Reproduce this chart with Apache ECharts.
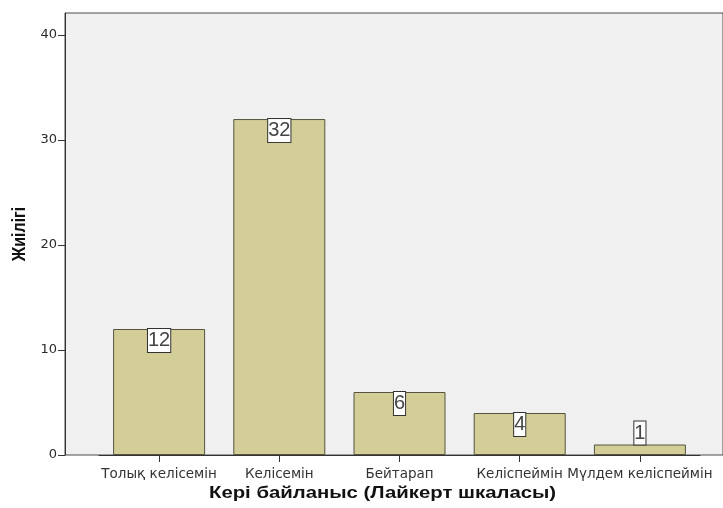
<!DOCTYPE html>
<html>
<head>
<meta charset="utf-8">
<style>
  html, body { margin: 0; padding: 0; background: #ffffff; }
  #chart { width: 723px; height: 508px; }
</style>
<script src="https://cdn.jsdelivr.net/npm/echarts@6/dist/echarts.min.js"></script>
</head>
<body>
<div id="chart"></div>
<script>
// Likert-scale feedback frequencies
const categories = ['Толық келісемін', 'Келісемін', 'Бейтарап', 'Келіспеймін', 'Мүлдем келіспеймін'];
const counts = [12, 32, 6, 4, 1];
const yTicks = [0, 10, 20, 30, 40];
const xTitle = 'Кері байланыс (Лайкерт шкаласы)';
const yTitle = 'Жиілігі';

const SANS = '"Liberation Sans", Arial, sans-serif';
const WIDE = '"DejaVu Sans", "Liberation Sans", sans-serif';

const chart = echarts.init(document.getElementById('chart'), null, { renderer: 'canvas' });

// boxed value label sitting on the bar top
const labelBox = {
  show: true,
  color: '#444',
  fontFamily: SANS,
  fontSize: 20,
  lineHeight: 21,
  backgroundColor: '#ffffff',
  borderColor: '#333333',
  borderWidth: 1,
  padding: [1, 0, 1, 0],
  distance: 0
};

chart.setOption({
  animation: false,
  grid: [
    // plotting grid for the bars
    { left: 99, right: 23, top: 13, bottom: 53, show: false },
    // framed grey plot backdrop
    { left: 65, right: -2, top: 13, bottom: 53, show: true,
      backgroundColor: '#f0f0f0', borderColor: '#4a4a4a', borderWidth: 1, z: 0 }
  ],
  xAxis: [
    {
      type: 'category', gridIndex: 0, data: categories,
      axisLine: { show: true, lineStyle: { color: '#333', width: 1 } },
      axisTick: { show: true, alignWithLabel: true, length: 7, lineStyle: { color: '#333' } },
      axisLabel: { color: '#333', fontFamily: WIDE, fontSize: 13.5, margin: 12, interval: 0 }
    },
    { type: 'value', gridIndex: 1, show: false, min: 0, max: 1 }
  ],
  yAxis: [
    {
      type: 'value', gridIndex: 0, min: 0, max: 42.1, interval: 10,
      offset: 34,
      splitLine: { show: false },
      axisLine: { show: true, lineStyle: { color: '#333', width: 1 } },
      axisTick: { show: true, length: 7, customValues: yTicks, lineStyle: { color: '#333' } },
      axisLabel: { color: '#2a2a2a', fontFamily: WIDE, fontSize: 13, margin: 8,
                   customValues: yTicks }
    },
    { type: 'value', gridIndex: 1, show: false, min: 0, max: 1 }
  ],
  series: [{
    type: 'bar',
    xAxisIndex: 0, yAxisIndex: 0,
    barWidth: 92,
    z: 3,
    data: counts.map(v => ({
      value: v,
      label: Object.assign({}, labelBox, { position: v < 2 ? 'top' : 'insideTop' })
    })),
    itemStyle: { color: '#d3ce97', borderColor: '#55553f', borderWidth: 1 }
  }],
  graphic: [
    {
      type: 'text', x: 209, y: 486, scaleX: 1.27, z: 10,
      style: { text: xTitle, fill: '#111', font: 'bold 16px ' + SANS }
    },
    {
      type: 'text', x: 10, y: 234, rotation: Math.PI / 2, scaleY: 1.2, z: 10,
      style: { text: yTitle, fill: '#111', font: 'bold 16px ' + SANS,
               align: 'center', verticalAlign: 'top' }
    }
  ]
});
</script>
</body>
</html>
